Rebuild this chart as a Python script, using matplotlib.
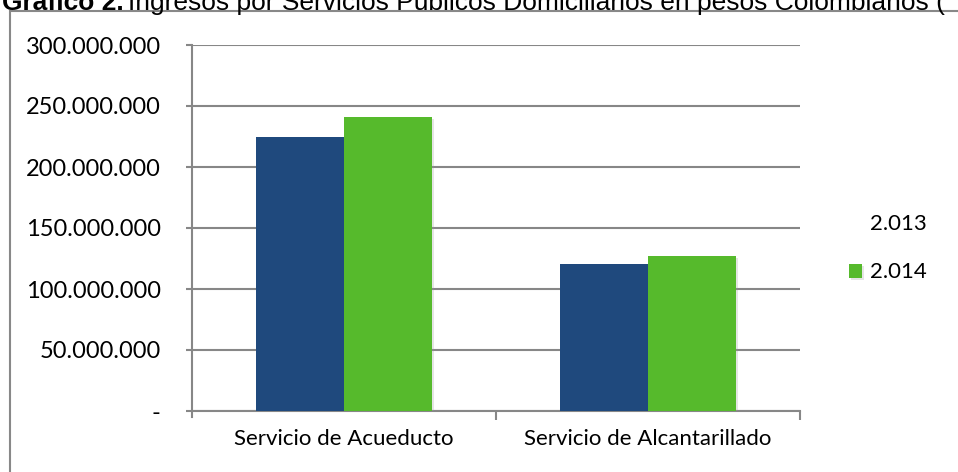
import numpy as np
import matplotlib
matplotlib.use("Agg")
import matplotlib.pyplot as plt
from matplotlib.patches import Rectangle
import matplotlib.patheffects as pe

plt.rcParams['font.family'] = ['Lato', 'DejaVu Sans']

# data
categories = ["Servicio de Acueducto", "Servicio de Alcantarillado"]
years = ["2.013", "2.014"]
ingresos_2013 = [224600000, 120500000]
ingresos_2014 = [241000000, 127000000]
yticks = [0, 50000000, 100000000, 150000000, 200000000, 250000000, 300000000]
ytick_labels = ["-", "50.000.000", "100.000.000", "150.000.000",
                "200.000.000", "250.000.000", "300.000.000"]

c_blue = "#1F497D"
c_green = "#56BA2C"
c_grid = "#878787"

fig = plt.figure(figsize=(9.58, 4.72), dpi=100)
ax = fig.add_axes([192/958, 61/472, 608/958, 366/472])

x = np.arange(len(categories))
w = 0.29
shadow = [pe.SimplePatchShadow(offset=(1.5, -1.5), shadow_rgbFace="#999999", alpha=0.25), pe.Normal()]
b1 = ax.bar(x - w/2, ingresos_2013, w, color=c_blue, edgecolor="none", zorder=3)
b2 = ax.bar(x + w/2, ingresos_2014, w, color=c_green, edgecolor="none", zorder=3)
for bar in list(b1) + list(b2):
    bar.set_path_effects(shadow)

ax.set_xlim(-0.5, 1.5)
ax.set_ylim(0, 300000000)
ax.set_axisbelow(True)
ax.yaxis.grid(True, color=c_grid, lw=1.5)

ax.set_yticks(yticks)
ax.set_yticklabels(ytick_labels)
ax.set_xticks(x)
ax.set_xticklabels(categories)
ax.set_xticks([0.5, 1.5], minor=True)

ax.tick_params(axis="y", length=4.5, width=1.5, color=c_grid, pad=18, labelsize=17)
ax.tick_params(axis="x", which="major", length=0, pad=13, labelsize=16)
ax.tick_params(axis="x", which="minor", length=6.5, width=1.5, color=c_grid)

for s in ["top", "right"]:
    ax.spines[s].set_visible(False)
for s in ["left", "bottom"]:
    ax.spines[s].set_color(c_grid)
    ax.spines[s].set_linewidth(1.5)
ax.spines["left"].set_bounds(-5000000, 300000000)

leg = fig.legend([b1, b2], years, loc="center left", bbox_to_anchor=(829/958, 1 - 248/472),
                 frameon=False, fontsize=16, handlelength=0.6, handleheight=0.6,
                 handletextpad=0.35, labelspacing=1.3)
leg.legend_handles[0].set_visible(False)

# outer frame of the chart object
fig.add_artist(Rectangle((10/958, -0.5), 2, 1.5 - 11/472, transform=fig.transFigure,
                         fill=False, edgecolor="#888888", lw=1.5, clip_on=False))

fig.text(2/958, 1 - 10/472, "Gráfico 2.", fontsize=19, fontweight="bold",
         family="Liberation Sans", va="baseline", ha="left")
fig.text(128/958, 1 - 10/472,
         "Ingresos por Servicios Públicos Domiciliarios en pesos Colombianos (",
         fontsize=19, family="Liberation Sans", va="baseline", ha="left")

fig.savefig("out.png", dpi=100)
